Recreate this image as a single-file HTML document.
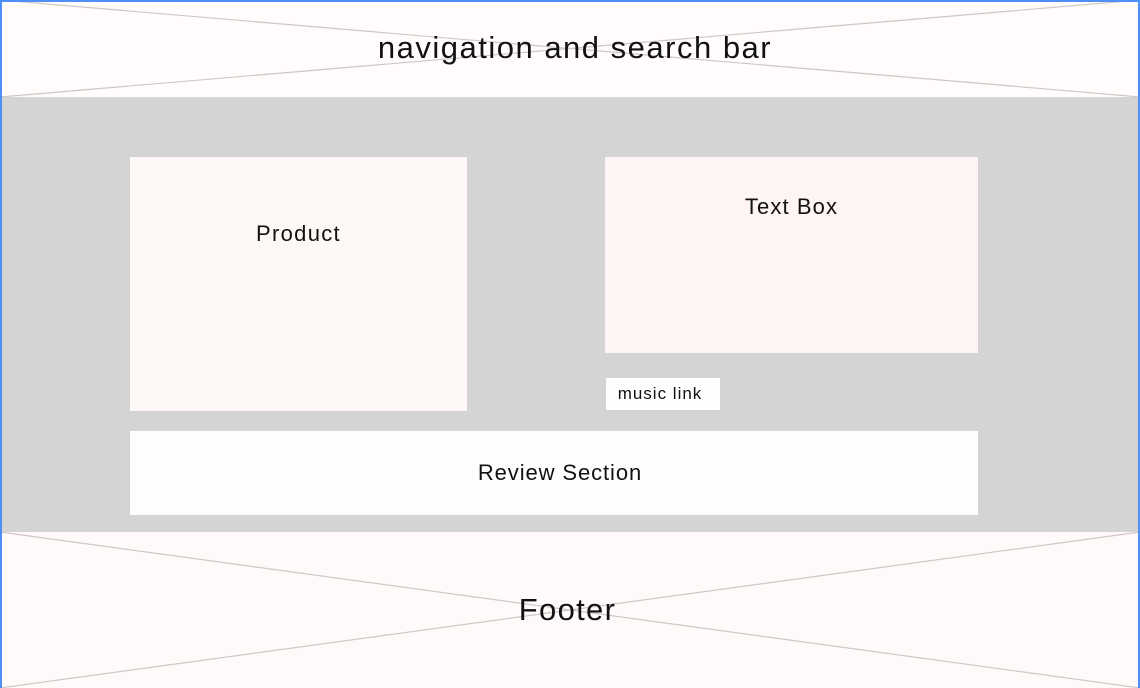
<!DOCTYPE html>
<html><head><style>
body{margin:0;width:1140px;height:688px;overflow:hidden;background:#fffcfb;font-family:"Liberation Sans",sans-serif;position:relative}
.a{position:absolute}
.t{position:absolute;text-align:center;color:#111}
</style></head><body>
<div class="a" style="left:0;top:0;width:1140px;height:97px;background:#fffcfb"></div>
<div class="a" style="left:0;top:97px;width:1140px;height:435px;background:#d4d4d4"></div>
<div class="a" style="left:0;top:532px;width:1140px;height:156px;background:#fffaf9"></div>
<svg class="a" style="left:0;top:0" width="1140" height="688">
<line x1="0" y1="0" x2="1140" y2="97" stroke="#cfc7c7" stroke-width="1.2"/>
<line x1="1140" y1="0" x2="0" y2="97" stroke="#cfc7c7" stroke-width="1.2"/>
<line x1="0" y1="532" x2="1140" y2="688" stroke="#cfc7c7" stroke-width="1.2"/>
<line x1="1140" y1="532" x2="0" y2="688" stroke="#cfc7c7" stroke-width="1.2"/>
</svg>
<div class="a" style="left:0;top:0;width:2px;height:688px;background:#4d8ef7"></div>
<div class="a" style="right:0;top:0;width:2px;height:688px;background:#4d8ef7"></div>
<div class="a" style="left:0;top:0;width:1140px;height:2px;background:#4d8ef7"></div>
<div class="t" style="left:0;width:1150px;top:30px;font-size:31px;letter-spacing:1.5px">navigation and search bar</div>
<div class="a" style="left:130px;top:157px;width:337px;height:254px;background:#fef8f7"></div>
<div class="t" style="left:130px;width:337px;top:221px;font-size:22px;letter-spacing:1.3px">Product</div>
<div class="a" style="left:605px;top:157px;width:373px;height:196px;background:#fef4f4"></div>
<div class="t" style="left:605px;width:373px;top:194px;font-size:22px;letter-spacing:1.1px">Text Box</div>
<div class="a" style="left:606px;top:378px;width:114px;height:32px;background:#fffefd"></div>
<div class="t" style="left:606px;width:108px;top:384px;font-size:17px;letter-spacing:1px">music link</div>
<div class="a" style="left:130px;top:431px;width:848px;height:84px;background:#fffdfc"></div>
<div class="t" style="left:130px;width:860px;top:460px;font-size:22px;letter-spacing:0.9px">Review Section</div>
<div class="t" style="left:0;width:1135px;top:592px;font-size:31px;letter-spacing:1.3px">Footer</div>
</body></html>
